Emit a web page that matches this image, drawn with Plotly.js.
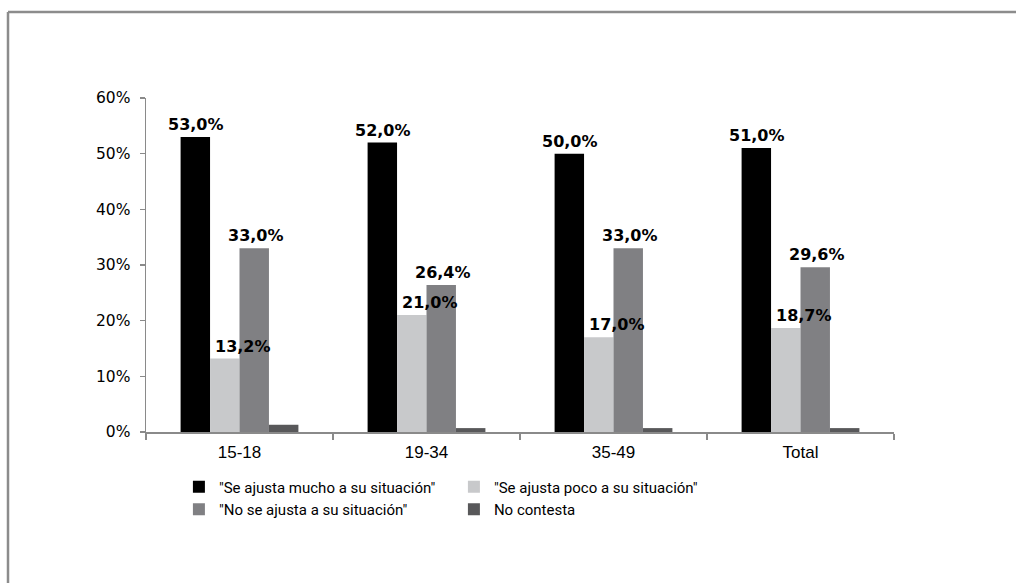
<!DOCTYPE html>
<html>
<head>
<meta charset="utf-8">
<script src="https://cdn.plot.ly/plotly-3.0.1.min.js"></script>
<style>html,body{margin:0;padding:0;background:#fff;}#chart{width:1016px;height:583px;}</style>
</head>
<body>
<div id="chart"></div>
<script>
var categories = ["15-18", "19-34", "35-49", "Total"];
var seriesNames = ["\"Se ajusta mucho a su situación\"", "\"Se ajusta poco a su situación\"", "\"No se ajusta a su situación\"", "No contesta"];
var mucho = [53.0, 52.0, 50.0, 51.0];
var poco = [13.2, 21.0, 17.0, 18.7];
var noAjusta = [33.0, 26.4, 33.0, 29.6];
var noContesta = [1.3, 0.7, 0.7, 0.7];
var yTickVals = [0, 10, 20, 30, 40, 50, 60];
var yTickText = ["0%", "10%", "20%", "30%", "40%", "50%", "60%"];

var colors = ["#000000", "#c8c9cb", "#808083", "#58585a"];
var seriesValues = [mucho, poco, noAjusta, noContesta];

var traces = seriesValues.map(function (vals, i) {
  return {
    type: "bar",
    name: seriesNames[i],
    x: categories,
    y: vals,
    marker: { color: colors[i], line: { width: 0 } },
    hoverinfo: "x+y"
  };
});

function fmt(v) { return v.toFixed(1).replace(".", ",") + "%"; }

// labels for first three series
var labelShift = [-44, 3, 16];
var annotations = [];
[mucho, poco, noAjusta].forEach(function (vals, s) {
  vals.forEach(function (v, k) {
    annotations.push({
      x: categories[k], y: v, xref: "x", yref: "y",
      text: "<b>" + fmt(v) + "</b>",
      showarrow: false, xanchor: "center", yanchor: "bottom",
      xshift: labelShift[s], yshift: 1,
      font: { family: "DejaVu Sans", size: 16, color: "#000" }
    });
  });
});

var W = 1016, H = 583, L = 146, R = 122, T = 98, B = 151;
var pw = W - L - R, ph = H - T - B;
var fx = (8 - L) / pw, fy = (H - B - 12) / ph;
var shapes = [
  { type: "line", xref: "paper", yref: "paper", x0: fx, x1: 2, y0: fy, y1: fy, line: { color: "#8c8c8c", width: 2.5 } },
  { type: "line", xref: "paper", yref: "paper", x0: fx, x1: fx, y0: -2, y1: fy, line: { color: "#8c8c8c", width: 2.5 } }
];

var layout = {
  width: W, height: H,
  margin: { l: L, r: R, t: T, b: B, pad: 0 },
  paper_bgcolor: "#ffffff", plot_bgcolor: "#ffffff",
  barmode: "group", bargap: 0.37, bargroupgap: 0,
  font: { family: "Liberation Sans", color: "#000" },
  xaxis: {
    type: "category",
    showline: true, linecolor: "#8a8a8a", linewidth: 1.5,
    ticks: "outside", tickson: "boundaries", ticklen: 6, tickcolor: "#8a8a8a", tickwidth: 1.5,
    ticklabelstandoff: 4,
    tickfont: { family: "Liberation Sans", size: 17, color: "#000" },
    showgrid: false, zeroline: false, fixedrange: true
  },
  yaxis: {
    range: [0, 60],
    tickvals: yTickVals, ticktext: yTickText,
    showline: true, linecolor: "#8a8a8a", linewidth: 1.5,
    ticks: "outside", ticklen: 5, tickcolor: "#8a8a8a", tickwidth: 1.5,
    ticklabelstandoff: 6,
    tickfont: { family: "DejaVu Sans", size: 15.5, color: "#000" },
    showgrid: false, zeroline: false, fixedrange: true
  },
  legend: {
    orientation: "h",
    x: 0.044, y: -0.115, xanchor: "left", yanchor: "top",
    entrywidth: 230, entrywidthmode: "pixels",
    traceorder: "normal",
    font: { family: "Roboto", size: 15, color: "#000" },
    bgcolor: "rgba(0,0,0,0)"
  },
  showlegend: true,
  annotations: annotations,
  shapes: shapes
};

Plotly.newPlot("chart", traces, layout, { displayModeBar: false, staticPlot: true });
</script>
</body>
</html>
